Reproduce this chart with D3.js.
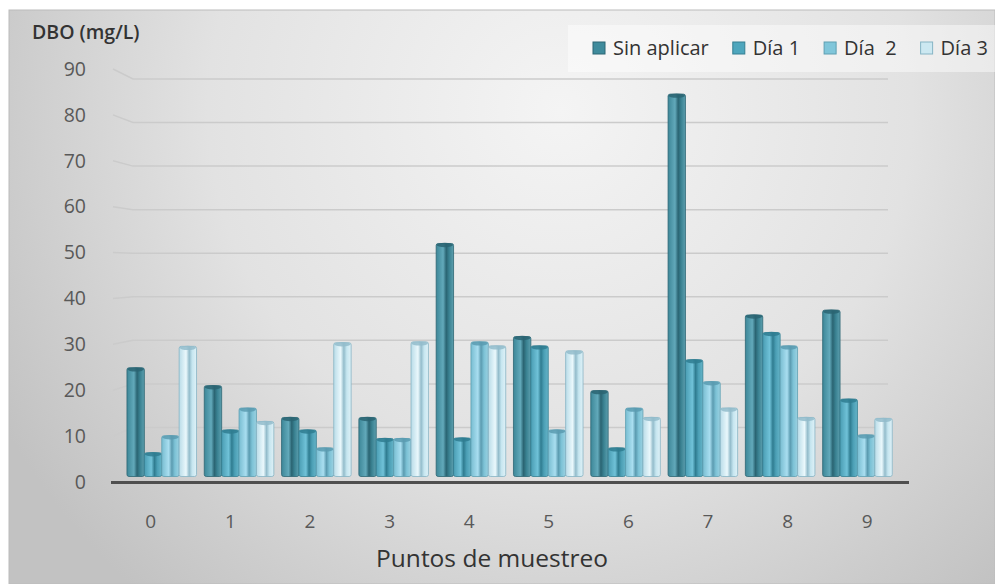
<!DOCTYPE html>
<html>
<head>
<meta charset="utf-8">
<script src="https://cdn.jsdelivr.net/npm/d3@7"></script>
<style>
  html, body { margin: 0; padding: 0; background: #ffffff; }
  svg { display: block; }
  text { font-family: "Open Sans", "DejaVu Sans", sans-serif; }
</style>
</head>
<body>
<svg id="chart" width="995" height="584"></svg>
<script>
// ---- Data ----
const categories = ["0", "1", "2", "3", "4", "5", "6", "7", "8", "9"];
const seriesNames = ["Sin aplicar", "Día 1", "Día  2", "Día 3"];
const sinAplicar = [24.3, 20.3, 13.2, 13.2, 52.1, 31.3, 19.2, 85.5, 36.1, 37.2];
const dia1       = [5.3, 10.4, 10.4, 8.5, 8.6, 29.2, 6.4, 26.1, 32.2, 17.3];
const dia2       = [9.1, 15.3, 6.4, 8.5, 30.1, 10.4, 15.3, 21.2, 29.2, 9.3];
const dia3       = [29.1, 12.3, 29.9, 30.1, 29.2, 28.1, 13.2, 15.3, 13.2, 13.0];
const yTicks = [0, 10, 20, 30, 40, 50, 60, 70, 80, 90];
const yTitle = "DBO (mg/L)";
const xTitle = "Puntos de muestreo";

const seriesValues = [sinAplicar, dia1, dia2, dia3];

// ---- Styles ----
const palettes = [
  { key: "s0", swatch: "#3f8b9c", stroke: "#2c6674",
    stops: ["#3d8798", "#62a9ba", "#2a6472", "#3a8292", "#5d9fae"] },
  { key: "s1", swatch: "#4ea6bd", stroke: "#347f92",
    stops: ["#4a9db3", "#70c2d8", "#2f7c90", "#4b9fb5", "#66b4c8"] },
  { key: "s2", swatch: "#80c6da", stroke: "#5e9fb2",
    stops: ["#78bdd1", "#a9def0", "#5b9bb0", "#7cc2d6", "#9bd1e1"] },
  { key: "s3", swatch: "#cce8f1", stroke: "#86b4c4",
    stops: ["#b9dce8", "#eaf8fc", "#93bccb", "#c6e6f0", "#dff1f7"] }
];

const svg = d3.select("#chart");
const W = 995, H = 584;
const defs = svg.append("defs");

// background gradient
const bg = defs.append("radialGradient").attr("id", "bgGrad")
  .attr("gradientUnits", "userSpaceOnUse")
  .attr("cx", 560).attr("cy", 110).attr("r", 640);
bg.append("stop").attr("offset", "0%").attr("stop-color", "#f4f4f4");
bg.append("stop").attr("offset", "55%").attr("stop-color", "#e2e2e2");
bg.append("stop").attr("offset", "100%").attr("stop-color", "#c2c2c2");

palettes.forEach(p => {
  const g = defs.append("linearGradient").attr("id", "grad-" + p.key)
    .attr("x1", "0%").attr("x2", "100%").attr("y1", "0%").attr("y2", "0%");
  const offs = ["0%", "40%", "58%", "75%", "100%"];
  p.stops.forEach((c, i) => g.append("stop").attr("offset", offs[i]).attr("stop-color", c));
});

svg.append("rect").attr("width", W).attr("height", H).attr("fill", "#ffffff");
svg.append("rect").attr("x", 9).attr("y", 10).attr("width", W - 9).attr("height", H - 10)
  .attr("fill", "url(#bgGrad)").attr("stroke", "#bcbcbc").attr("stroke-width", 1);

// ---- Scales ----
const xLabel = d3.scaleBand().domain(categories).range([111, 907]);
const xBars = d3.scaleBand().domain(categories).range([123.1, 896.1])
  .paddingInner(0.1).paddingOuter(0.05);
const xSeries = d3.scaleBand().domain(seriesNames).range([0, xBars.bandwidth()]);
const yAxisScale = d3.scaleLinear().domain([0, 90]).range([482, 69]);   // front (labels)
const yBack = d3.scaleLinear().domain([0, 90]).range([471, 79]);        // back wall (gridlines)
const yBar = d3.scaleLinear().domain([0, 90]).range([476.5, 74]);       // bar depth

// ---- Gridlines (3D-ish back wall) ----
svg.append("g").selectAll("path").data(yTicks.filter(t => t > 0)).join("path")
  .attr("d", t => `M113,${yAxisScale(t)} L133,${yBack(t)} L888,${yBack(t)}`)
  .attr("fill", "none").attr("stroke", "#cbcbcb").attr("stroke-width", 1.5);

// ---- Y axis ----
const yAxisG = svg.append("g").attr("transform", "translate(86,0)")
  .call(d3.axisLeft(yAxisScale).tickValues(yTicks).tickSize(0).tickPadding(0));
yAxisG.select(".domain").remove();
yAxisG.selectAll("text").attr("font-size", 19.5).attr("fill", "#595959")
  .style("font-family", "'Open Sans', sans-serif");

svg.append("text").attr("x", 32).attr("y", 32).attr("dy", "0.35em")
  .attr("font-size", 19.5).attr("font-weight", 600).attr("fill", "#333333")
  .text(yTitle);

// ---- Bars ----
const barsG = svg.append("g");
seriesNames.forEach((s, si) => {
  const vals = seriesValues[si];
  const p = palettes[si];
  const w = xSeries.bandwidth();
  const g = barsG.append("g");
  g.selectAll("rect").data(vals).join("rect")
    .attr("x", (d, i) => xBars(categories[i]) + xSeries(s))
    .attr("y", d => yBar(d))
    .attr("width", w)
    .attr("height", d => yBar(0) - yBar(d))
    .attr("rx", 2)
    .attr("fill", `url(#grad-${p.key})`)
    .attr("stroke", p.stroke).attr("stroke-width", 0.8);
  g.selectAll("ellipse").data(vals).join("ellipse")
    .attr("cx", (d, i) => xBars(categories[i]) + xSeries(s) + w / 2)
    .attr("cy", d => yBar(d) + 1.5)
    .attr("rx", w / 2 - 0.5).attr("ry", 2.2)
    .attr("fill", p.stops[2]).attr("opacity", 0.85);
});

// ---- X axis line ----
svg.append("line").attr("x1", 111).attr("x2", 909).attr("y1", 482.5).attr("y2", 482.5)
  .attr("stroke", "#4f4f4f").attr("stroke-width", 3);

const xAxisG = svg.append("g").attr("transform", "translate(0,482)")
  .call(d3.axisBottom(xLabel).tickSize(0).tickPadding(33));
xAxisG.select(".domain").remove();
xAxisG.selectAll("text").attr("font-size", 19).attr("fill", "#595959")
  .style("font-family", "'Open Sans', sans-serif");

svg.append("text").attr("x", (xLabel.range()[0] + xLabel.range()[1]) / 2 + 983 - 1000 + 0).attr("y", 558)
  .attr("dy", "0.35em").attr("text-anchor", "middle")
  .attr("font-size", 24.5).attr("fill", "#333333")
  .text(xTitle);

// ---- Legend ----
const legend = svg.append("g");
legend.append("rect").attr("x", 568).attr("y", 25).attr("width", 427).attr("height", 47)
  .attr("fill", "#ffffff").attr("opacity", 0.45);
let lx = 593;
seriesNames.forEach((s, si) => {
  const p = palettes[si];
  legend.append("rect").attr("x", lx).attr("y", 42).attr("width", 12).attr("height", 12)
    .attr("fill", p.swatch).attr("stroke", p.stroke).attr("stroke-width", 1);
  const t = legend.append("text").attr("x", lx + 20).attr("y", 48).attr("dy", "0.35em")
    .attr("font-size", 20).attr("fill", "#333333")
    .style("white-space", "pre").attr("xml:space", "preserve")
    .text(s);
  lx = lx + 20 + t.node().getComputedTextLength() + 24;
});
</script>
</body>
</html>
